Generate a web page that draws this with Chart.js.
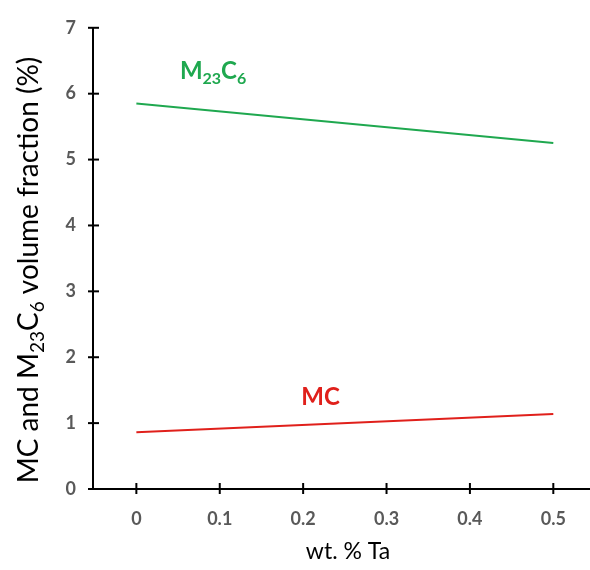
<!DOCTYPE html>
<html>
<head>
<meta charset="utf-8">
<script src="https://cdn.jsdelivr.net/npm/chart.js@4"></script>
<style>
  html, body { margin: 0; padding: 0; background: #fff; }
  #wrap { width: 590px; height: 570px; position: relative; }
</style>
</head>
<body>
<div id="wrap"><canvas id="chart"></canvas></div>
<script>
// data
const taWt      = [0, 0.5];
const m23c6     = [5.85, 5.25];
const mc        = [0.86, 1.14];
const xTicks    = [0, 0.1, 0.2, 0.3, 0.4, 0.5];
const yTicks    = [0, 1, 2, 3, 4, 5, 6, 7];
const xTitle    = "wt. % Ta";

const FONT = "Lato, 'Open Sans', sans-serif";

// draw text pieces [text, isSub] starting at x, baseline y
function drawRich(ctx, parts, size, weight, x, y, align) {
    const sub = Math.round(size * 0.68);
    let total = 0;
    parts.forEach(([t, s]) => {
        ctx.font = `${weight} ${s ? sub : size}px ${FONT}`;
        total += ctx.measureText(t).width;
    });
    let cx = align === "center" ? x - total / 2 : x;
    ctx.textAlign = "left";
    ctx.textBaseline = "alphabetic";
    parts.forEach(([t, s]) => {
        ctx.font = `${weight} ${s ? sub : size}px ${FONT}`;
        ctx.fillText(t, cx, s ? y + size * 0.22 : y);
        cx += ctx.measureText(t).width;
    });
}

const decorPlugin = {
    id: "decor",
    afterDraw(chart) {
        const { ctx, scales: { x, y } } = chart;
        ctx.save();
        // crossing tick marks
        ctx.strokeStyle = "#000";
        ctx.lineWidth = 2;
        const x0 = x.left, y0 = y.bottom;
        yTicks.forEach(v => {
            const py = y.getPixelForValue(v);
            ctx.beginPath(); ctx.moveTo(x0 - 5, py); ctx.lineTo(x0 + 6, py); ctx.stroke();
        });
        xTicks.forEach(v => {
            const px = x.getPixelForValue(v);
            ctx.beginPath(); ctx.moveTo(px, y0 - 6); ctx.lineTo(px, y0 + 5); ctx.stroke();
        });

        // series labels
        ctx.fillStyle = "#1fa84f";
        drawRich(ctx, [["M", false], ["23", true], ["C", false], ["6", true]], 24, "bold",
            x.getPixelForValue(0.092), y.getPixelForValue(6.22), "center");
        ctx.fillStyle = "#e0201b";
        drawRich(ctx, [["MC", false]], 24, "bold",
            x.getPixelForValue(0.221), y.getPixelForValue(1.28), "center");

        // axis titles
        ctx.fillStyle = "#000";
        ctx.font = `23px ${FONT}`;
        ctx.textAlign = "center";
        ctx.fillText(xTitle, 348, 559);

        ctx.translate(38, 270);
        ctx.rotate(-Math.PI / 2);
        drawRich(ctx, [["MC and M", false], ["23", true], ["C", false], ["6", true], [" volume fraction (%)", false]],
            28, "normal", 0, 0, "center");
        ctx.restore();
    }
};

new Chart(document.getElementById("chart"), {
    type: "scatter",
    data: {
        datasets: [
            {
                label: "M23C6",
                data: taWt.map((t, i) => ({ x: t, y: m23c6[i] })),
                showLine: true,
                borderColor: "#1fa84f",
                borderWidth: 2,
                pointRadius: 0,
            },
            {
                label: "MC",
                data: taWt.map((t, i) => ({ x: t, y: mc[i] })),
                showLine: true,
                borderColor: "#e0201b",
                borderWidth: 2,
                pointRadius: 0,
            },
        ],
    },
    options: {
        responsive: true,
        maintainAspectRatio: false,
        animation: false,
        layout: { padding: { top: 17, right: 0, left: 0, bottom: 0 } },
        plugins: { legend: { display: false }, tooltip: { enabled: false } },
        scales: {
            x: {
                type: "linear",
                min: -0.052,
                max: 0.544,
                afterBuildTicks: s => { s.ticks = xTicks.map(v => ({ value: v })); },
                afterFit: s => { s.height = 81; },
                grid: { display: false, drawTicks: false },
                border: { display: true, color: "#000", width: 2 },
                ticks: {
                    padding: 19,
                    color: "#595959",
                    font: { family: FONT, size: 18, weight: "bold" },
                    callback: v => v === 0 ? "0" : String(v),
                },
            },
            y: {
                min: 0,
                max: 7,
                afterBuildTicks: s => { s.ticks = yTicks.map(v => ({ value: v })); },
                afterFit: s => { s.width = 93; },
                grid: { display: false, drawTicks: false },
                border: { display: true, color: "#000", width: 2 },
                ticks: {
                    padding: 17,
                    color: "#595959",
                    font: { family: FONT, size: 18, weight: "bold" },
                },
            },
        },
    },
    plugins: [decorPlugin],
});
</script>
</body>
</html>
